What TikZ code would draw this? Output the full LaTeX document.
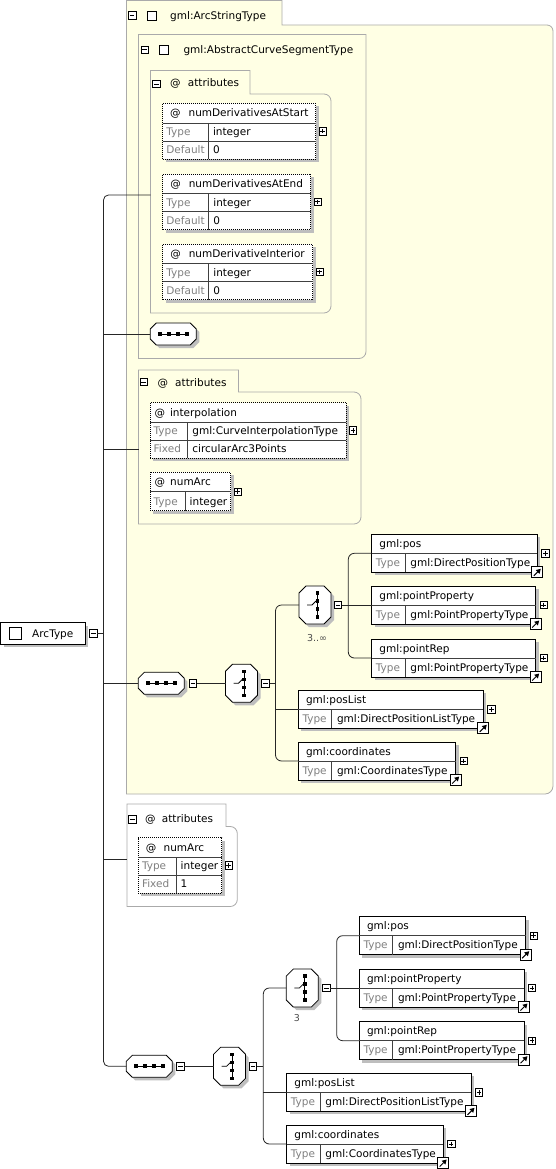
\documentclass[tikz,border=0pt]{standalone}
\usepackage{fontspec}
\setmainfont{DejaVu Sans}
\usepackage{tikz}
\usetikzlibrary{calc,positioning,arrows.meta}

\definecolor{grpfill}{RGB}{255,255,228}
\definecolor{grpline}{RGB}{170,170,170}
\definecolor{shadegray}{RGB}{190,190,190}
\definecolor{lblgray}{RGB}{128,128,128}

\newcommand{\attname}[3]{\hspace*{#1pt}@\hspace*{#2pt}#3}

% element box: name, left, top, width, title, type
\newcommand{\elembox}[6]{%
  \fill[dropshade] (#2+3,#3+3) rectangle ++(#4,38);
  \node[elem, minimum width=#4pt, anchor=north west] (#1) at (#2,#3) {};
  \draw[cell] (#1.west) -- (#1.east);
  \draw[cell] ($(#1.west)+(33.5,0)$) -- ($(#1.south west)+(33.5,0)$);
  \node[txt] at ($(#1.north west)+(7.5,9.5)$) {#5};
  \node[lbl] at ($(#1.west)+(4,9.5)$) {Type};
  \node[txt] at ($(#1.west)+(38.5,9.5)$) {#6};
  \node[plusbox] at ($(#1.east)+(8,0)$) {};
  \node[refbox] (#1ref) at (#1.south east) {};
  \draw[refarrow] ($(#1ref.south west)+(2.5,-2.5)$) -- ($(#1ref.north east)+(-2.5,2.5)$);
}

% attribute box, three rows
\newcommand{\attrthree}[9]{%
  \fill[dropshade] (#2+3,#3+3) rectangle ++(#4,55.5);
  \node[attr, minimum width=#4pt, minimum height=55.5pt, anchor=north west] (#1) at (#2,#3) {};
  \draw[cell] ($(#1.north west)+(0,19.5)$) -- ($(#1.north east)+(0,19.5)$);
  \draw[cell] ($(#1.north west)+(0,37.5)$) -- ($(#1.north east)+(0,37.5)$);
  \draw[cell] ($(#1.north west)+(#5,19.5)$) -- ($(#1.south west)+(#5,0)$);
  \node[txt] at ($(#1.north west)+(0,9.75)$) {#6};
  \node[lbl] at ($(#1.north west)+(3.5,28.5)$) {Type};
  \node[txt] at ($(#1.north west)+(#5+4.5,28.5)$) {#7};
  \node[lbl] at ($(#1.north west)+(3.5,46.5)$) {#8};
  \node[txt] at ($(#1.north west)+(#5+4.5,46.5)$) {#9};
  \node[plusbox] at ($(#1.east)+(7,0)$) {};
}

% attribute box, two rows
\newcommand{\attrtwo}[7]{%
  \fill[dropshade] (#2+3,#3+3) rectangle ++(#4,38.5);
  \node[attr, minimum width=#4pt, minimum height=38.5pt, anchor=north west] (#1) at (#2,#3) {};
  \draw[cell] ($(#1.north west)+(0,19.5)$) -- ($(#1.north east)+(0,19.5)$);
  \draw[cell] ($(#1.north west)+(#5,19.5)$) -- ($(#1.south west)+(#5,0)$);
  \node[txt] at ($(#1.north west)+(0,9.75)$) {#6};
  \node[lbl] at ($(#1.north west)+(3.5,29)$) {Type};
  \node[txt] at ($(#1.north west)+(#5+4.5,29)$) {#7};
  \node[plusbox] at ($(#1.east)+(7,0)$) {};
}

% sequence symbol: name, centre
\newcommand{\seqsym}[2]{%
  \node[symnode, minimum width=46pt, minimum height=22pt] (#1) at (#2) {};
  \fill[dropshade] ($(#1.center)+(3,3)$) ++(-17,-11) -- ++(34,0) -- ++(6,6) -- ++(0,10)
    -- ++(-6,6) -- ++(-34,0) -- ++(-6,-6) -- ++(0,-10) -- cycle;
  \draw[symb] (#1.center) ++(-17,-11) -- ++(34,0) -- ++(6,6) -- ++(0,10)
    -- ++(-6,6) -- ++(-34,0) -- ++(-6,-6) -- ++(0,-10) -- cycle;
  \draw[line width=0.8pt] ($(#1.center)+(-15,0)$) -- ($(#1.center)+(15,0)$);
  \foreach \dx in {-13.5,-4.5,4.5,13.5}
    \fill ($(#1.center)+(\dx-2,-2)$) rectangle ++(4,4);
}

% choice symbol: name, centre
\newcommand{\choicesym}[2]{%
  \node[symnode, minimum width=32pt, minimum height=38pt] (#1) at (#2) {};
  \fill[dropshade] ($(#1.center)+(3,3)$) ++(-9,-19) -- ++(18,0) -- ++(7,7) -- ++(0,24)
    -- ++(-7,7) -- ++(-18,0) -- ++(-7,-7) -- ++(0,-24) -- cycle;
  \draw[symb] (#1.center) ++(-9,-19) -- ++(18,0) -- ++(7,7) -- ++(0,24)
    -- ++(-7,7) -- ++(-18,0) -- ++(-7,-7) -- ++(0,-24) -- cycle;
  \draw[line width=0.8pt] ($(#1.center)+(2.5,-12)$) -- ($(#1.center)+(2.5,12)$);
  \draw[line width=0.8pt] ($(#1.center)+(-8,0)$) -- ++(5,0) -- ++(4,-4);
  \foreach \dy in {-12,-4,4,12}
    \fill ($(#1.center)+(0.7,\dy-1.8)$) rectangle ++(3.6,3.6);
}

\begin{document}
\begin{tikzpicture}[x=1pt,y=-1pt,
    txt/.style={anchor=west, inner sep=0pt, text height=7.5pt, text depth=0pt,
      font=\fontsize{10.5}{12}\selectfont},
    lbl/.style={txt, text=lblgray},
    cnt/.style={inner sep=0pt, font=\fontsize{9.5}{10}\selectfont, text=black!70},
    dropshade/.style={fill=shadegray},
    grp/.style={draw=grpline, line width=0.8pt},
    elem/.style={draw, line width=0.9pt, fill=white, minimum height=38pt,
      inner sep=0pt, outer sep=0pt},
    attr/.style={draw, dash pattern=on 1pt off 1pt, line width=0.8pt, fill=white,
      inner sep=0pt, outer sep=0pt},
    cell/.style={draw=black!75, line width=0.7pt},
    symnode/.style={draw=none, inner sep=0pt, outer sep=0pt},
    symb/.style={draw, line width=0.8pt, fill=white},
    tabsq/.style={draw, fill=white, line width=0.7pt, minimum size=9pt, inner sep=0pt},
    typebox/.style={draw, fill=white, line width=0.9pt, inner sep=0pt, outer sep=0pt},
    plusbox/.style={draw, fill=white, line width=0.6pt, minimum size=7.5pt, inner sep=0pt,
      path picture={
        \draw[line width=0.6pt] ([xshift=1.5pt]path picture bounding box.west)
          -- ([xshift=-1.5pt]path picture bounding box.east);
        \draw[line width=0.6pt] ([yshift=-1.5pt]path picture bounding box.north)
          -- ([yshift=1.5pt]path picture bounding box.south);}},
    minusbox/.style={draw, fill=white, line width=0.6pt, minimum size=7.5pt, inner sep=0pt,
      path picture={
        \draw[line width=0.6pt] ([xshift=1.5pt]path picture bounding box.west)
          -- ([xshift=-1.5pt]path picture bounding box.east);}},
    refbox/.style={draw, line width=1pt, fill=white, minimum size=11pt, inner sep=0pt},
    refarrow/.style={line width=1pt, -{Triangle[length=4.5pt,width=5pt]}},
    conn/.style={line width=0.8pt, black!85}]
\useasboundingbox (0,0) rectangle (555,1169);

% group boxes
\draw[grp, fill=grpfill] (126.5,794) -- (126.5,0.5) -- (282,0.5) -- (282,25) -- (547,25)
  arc[start angle=90,end angle=0,radius=6pt] -- (553,786)
  arc[start angle=0,end angle=-90,radius=8pt] -- cycle;
\draw[grp, fill=grpfill] (138.5,358.5) -- (138.5,34.5) -- (366,34.5) -- (366,351.5)
  arc[start angle=0,end angle=-90,radius=7pt] -- cycle;
\draw[grp] (150.5,313) -- (150.5,70.5) -- (250,70.5) -- (250,94) -- (324,94)
  arc[start angle=90,end angle=0,radius=7pt] -- (331,306)
  arc[start angle=0,end angle=-90,radius=7pt] -- cycle;
\draw[grp] (138.5,524) -- (138.5,370) -- (238.5,370) -- (238.5,392) -- (354,392)
  arc[start angle=90,end angle=0,radius=7pt] -- (361,517)
  arc[start angle=0,end angle=-90,radius=7pt] -- cycle;
\draw[grp] (127,906.5) -- (127,804) -- (226,804) -- (226,826.5) -- (230.3,826.5)
  arc[start angle=90,end angle=0,radius=7pt] -- (237.3,899.5)
  arc[start angle=0,end angle=-90,radius=7pt] -- cycle;

% group headers
\node[minusbox] (mGrpA) at (132.2,15.5) {};
\node[tabsq] (sqGrpA) at (152.2,16.2) {};
\node[txt] (tGrpA) at (170,15.5) {gml:ArcStringType};
\node[minusbox] (mGrpB) at (144.7,49.7) {};
\node[tabsq] (sqGrpB) at (163.5,50) {};
\node[txt] (tGrpB) at (183.3,49.5) {gml:AbstractCurveSegmentType};
\node[minusbox] (mGrpC) at (156.3,84) {};
\node[txt] (atGrpC) at (170,83) {@};
\node[txt] (tGrpC) at (187.7,83) {attributes};
\node[minusbox] (mGrpD) at (143.7,382) {};
\node[txt] (atGrpD) at (157.3,382.5) {@};
\node[txt] (tGrpD) at (175,382.5) {attributes};
\node[minusbox] (mGrpE) at (132.3,819.2) {};
\node[txt] (atGrpE) at (145,819) {@};
\node[txt] (tGrpE) at (161.7,819) {attributes};

% attributes
\attrthree{atStart}{162.7}{103.5}{153}{45.6}{\attname{7.3}{7.9}{numDerivativesAtStart}}{integer}{Default}{0}
\attrthree{atEnd}{162.7}{174}{148}{46}{\attname{7.5}{7.9}{numDerivativesAtEnd}}{integer}{Default}{0}
\attrthree{atInt}{162.7}{244}{150}{46}{\attname{7.5}{7.9}{numDerivativeInterior}}{integer}{Default}{0}
\attrthree{atInterp}{150}{402.7}{196}{37.7}{\attname{4.3}{5}{interpolation}}{gml:CurveInterpolationType}{Fixed}{circularArc3Points}
\attrtwo{atNumA}{150}{472.3}{80.7}{35}{\attname{4.5}{5}{numArc}}{integer}
\attrthree{atNumB}{138.3}{837.7}{83.4}{37.7}{\attname{7.3}{7.3}{numArc}}{integer}{Fixed}{1}

% ArcType
\fill[dropshade] (3.5,625.7) rectangle (88.3,647.3);
\node[typebox, minimum width=84.8pt, minimum height=21.6pt, anchor=west] (arcType) at (0.5,633.5) {};
\node[tabsq, minimum size=12pt] (sqArc) at (15.5,633.3) {};
\node[txt] (tArc) at (32,633.5) {ArcType};
\node[minusbox] (mArc) at (93.3,633.5) {};

% content of gml:ArcStringType
\seqsym{seqA}{173.3,334}
\seqsym{seqB}{161.3,683.3}
\node[minusbox] (mSeqB) at (193,683.3) {};
\choicesym{choiceA}{241.5,683.3}
\node[minusbox] (mChA) at (265.5,683.3) {};
\choicesym{choiceB}{315,605}
\node[minusbox] (mChB) at (338,605) {};
\node[cnt] (cntB) at (317,638) {3..∞};
\elembox{posA}{371.7}{534.3}{165.6}{gml:pos}{gml:DirectPositionType}
\elembox{ptPropA}{371.7}{586}{164}{gml:pointProperty}{gml:PointPropertyType}
\elembox{ptRepA}{371.7}{639}{164}{gml:pointRep}{gml:PointPropertyType}
\elembox{posListA}{298.3}{690.3}{185}{gml:posList}{gml:DirectPositionListType}
\elembox{coordA}{298.3}{742}{157.4}{gml:coordinates}{gml:CoordinatesType}

% content of ArcType
\seqsym{seqC}{149.3,1066.3}
\node[minusbox] (mSeqC) at (180.3,1066.3) {};
\choicesym{choiceC}{229.5,1066.3}
\node[minusbox] (mChC) at (253,1066.3) {};
\choicesym{choiceD}{302.3,988}
\node[minusbox] (mChD) at (326.3,988) {};
\node[cnt] (cntD) at (297,1018.5) {3};
\elembox{posB}{359.3}{916.7}{166.4}{gml:pos}{gml:DirectPositionType}
\elembox{ptPropB}{359.3}{969}{164.7}{gml:pointProperty}{gml:PointPropertyType}
\elembox{ptRepB}{359.3}{1021.7}{164.7}{gml:pointRep}{gml:PointPropertyType}
\elembox{posListB}{286.7}{1073.3}{184.3}{gml:posList}{gml:DirectPositionListType}
\elembox{coordB}{286.7}{1125}{156.5}{gml:coordinates}{gml:CoordinatesType}

% trunk
\coordinate (trunk) at (103.5,633.5);
\coordinate (grpAttrA) at (150.5,195);
\coordinate (grpAttrB) at (138.5,449);
\coordinate (grpAttrC) at (127,859);
\draw[conn, rounded corners=5pt] (grpAttrA) -| (trunk) |- (seqC.west);
\draw[conn] (trunk |- seqA.west) -- (seqA.west);
\draw[conn] (trunk |- grpAttrB) -- (grpAttrB);
\draw[conn] (mArc.east) -- (trunk);
\draw[conn] (trunk |- seqB.west) -- (seqB.west);
\draw[conn] (trunk |- grpAttrC) -- (grpAttrC);

% upper branches
\draw[conn] (mSeqB.east) -- (choiceA.west);
\coordinate (brA) at (275.5,683.3);
\draw[conn, rounded corners=6pt] (choiceB.west) -| (brA) |- (coordA.west);
\draw[conn] (mChA.east) -- (brA);
\draw[conn] (brA |- posListA.west) -- (posListA.west);
\coordinate (brB) at (348.3,605);
\draw[conn, rounded corners=6pt] (posA.west) -| (brB) |- (ptRepA.west);
\draw[conn] (mChB.east) -- (ptPropA.west);

% lower branches
\draw[conn] (mSeqC.east) -- (choiceC.west);
\coordinate (brC) at (263.3,1066.3);
\draw[conn, rounded corners=6pt] (choiceD.west) -| (brC) |- (coordB.west);
\draw[conn] (mChC.east) -- (brC);
\draw[conn] (brC |- posListB.west) -- (posListB.west);
\coordinate (brD) at (336.7,988);
\draw[conn, rounded corners=6pt] (posB.west) -| (brD) |- (ptRepB.west);
\draw[conn] (mChD.east) -- (ptPropB.west);
\end{tikzpicture}
\end{document}
